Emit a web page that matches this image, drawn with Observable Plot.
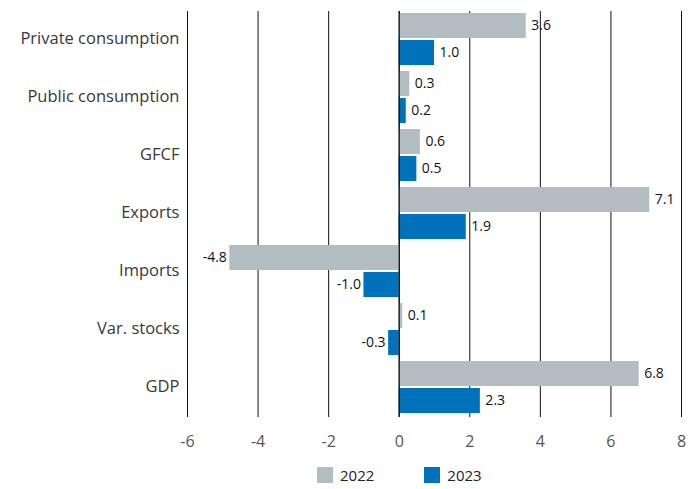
<!DOCTYPE html>
<html>
<head>
<meta charset="utf-8">
<script src="https://cdn.jsdelivr.net/npm/d3@7"></script>
<script src="https://cdn.jsdelivr.net/npm/@observablehq/plot@0.6"></script>
<style>
  html, body { margin: 0; padding: 0; background: #fff; }
  #chart { width: 697px; }
  .legend { display: flex; justify-content: flex-start; align-items: center; height: 34px; padding-top: 6px; box-sizing: border-box; padding-left: 317px; font-family: "Open Sans", sans-serif; font-size: 15px; color: #222; }
  .legend .item { display: flex; align-items: center; margin-right: 50px; }
  .legend .sw { width: 16px; height: 16px; margin-right: 7px; }
</style>
</head>
<body>
<div id="chart"></div>
<script>
const categories = ["Private consumption", "Public consumption", "GFCF", "Exports", "Imports", "Var. stocks", "GDP"];
const years = ["2022", "2023"];
const values2022 = [3.6, 0.3, 0.6, 7.1, -4.8, 0.1, 6.8];
const values2023 = [1.0, 0.2, 0.5, 1.9, -1.0, -0.3, 2.3];
const xTicks = [-6, -4, -2, 0, 2, 4, 6, 8];
const colors = ["#b3bdc1", "#0072bb"];

const data = [];
categories.forEach((c, i) => {
  data.push({category: c, year: years[0], value: values2022[i]});
  data.push({category: c, year: years[1], value: values2023[i]});
});
const positives = data.filter(d => d.value >= 0);
const negatives = data.filter(d => d.value < 0);

const font = '"Open Sans", sans-serif';

const boundaryTicks = Plot.ruleY([0], {
  render: (index, scales, values, dimensions) => {
    const g = d3.create("svg:g");
    const x0 = scales.x(0);
    const top = dimensions.marginTop;
    const bottom = dimensions.height - dimensions.marginBottom;
    for (const y of [top, bottom]) {
      g.append("line")
        .attr("x1", x0).attr("x2", x0 + 4)
        .attr("y1", y + 0.5).attr("y2", y + 0.5)
        .attr("stroke", "#000").attr("stroke-width", 1);
    }
    return g.node();
  }
});

const labelOpts = {fy: "category", y: "year", x: "value", text: d => d.value.toFixed(1), fontSize: 14, fill: "#111"};

const chart = Plot.plot({
  width: 697,
  height: 455,
  marginLeft: 187,
  marginRight: 16,
  marginTop: 10,
  marginBottom: 38,
  style: {fontFamily: font, background: "#fff", overflow: "visible"},
  x: {domain: [-6, 8], ticks: xTicks, tickFormat: d => String(d), tickSize: 0, label: null},
  y: {domain: years, paddingInner: 0.074, paddingOuter: 0.11, align: 0.35, axis: null},
  fy: {domain: categories, padding: 0, label: null},
  color: {domain: years, range: colors},
  marks: [
    Plot.ruleX(xTicks, {stroke: "#111", strokeWidth: 1}),
    Plot.barX(data, {fy: "category", y: "year", x: "value", fill: "year"}),
    boundaryTicks,
    Plot.ruleX([0], {stroke: "#111", strokeWidth: 1.2}),
    Plot.text(positives, {...labelOpts, textAnchor: "start", dx: 5}),
    Plot.text(negatives, {...labelOpts, textAnchor: "end", dx: -3}),
    Plot.axisFy({anchor: "left", tickSize: 0, tickPadding: 8, dy: -1.5, fontSize: 16.5, fill: "#383838", label: null}),
    Plot.axisX({anchor: "bottom", ticks: xTicks, tickFormat: d => String(d), tickSize: 0, tickPadding: 18, fontSize: 16, fill: "#555", label: null})
  ]
});

document.getElementById("chart").appendChild(chart);

const legend = document.createElement("div");
legend.className = "legend";
years.forEach((y, i) => {
  const item = document.createElement("div");
  item.className = "item";
  item.innerHTML = `<span class="sw" style="background:${colors[i]}"></span><span>${y}</span>`;
  legend.appendChild(item);
});
document.body.appendChild(legend);
</script>
</body>
</html>
